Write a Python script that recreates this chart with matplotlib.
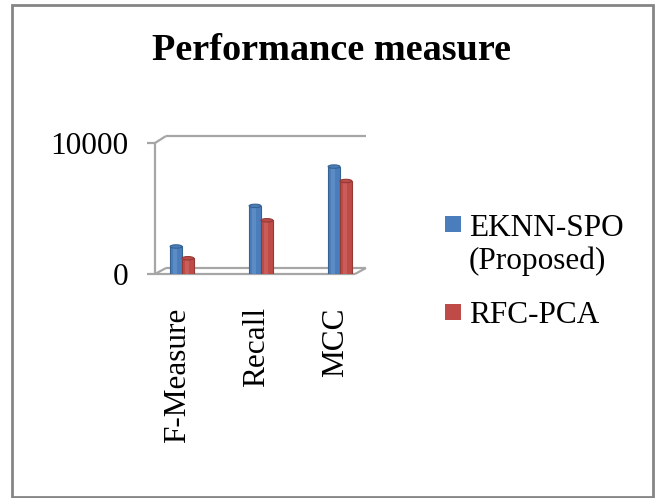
import matplotlib
matplotlib.use("Agg")
import matplotlib.pyplot as plt
import numpy as np
from matplotlib.patches import Ellipse, Rectangle
from matplotlib.transforms import ScaledTranslation
from matplotlib.lines import Line2D

categories = ["F-Measure", "Recall", "MCC"]
series_names = ["EKNN-SPO\n(Proposed)", "RFC-PCA"]
eknn_values = [2100, 5200, 8200]
rfc_values = [1200, 4100, 7100]
ytick_values = [0, 10000]
ytick_labels = ["0", "10000"]

W, H = 655, 498
fig = plt.figure(figsize=(W / 100, H / 100), dpi=100)
plt.rcParams['font.family'] = ['Liberation Serif', 'DejaVu Serif']

def fx(px):
    return px / W

def fy(py):
    return 1 - py / H

FS = 22.5

# Outer border
fig.add_artist(Rectangle((fx(12), fy(497)), fx(653) - fx(12), fy(5) - fy(497),
                         transform=fig.transFigure, fill=False,
                         edgecolor="#858585", lw=2.0))

# Axes: front plot area
left, right, bottom, top = 155, 355, 274, 143
ax = fig.add_axes([fx(left), fy(bottom), fx(right) - fx(left), fy(top) - fy(bottom)])
ax.set_xlim(-27 / 79, 2 + 15 / 79)
ax.set_ylim(0, 10000)
for s in ax.spines.values():
    s.set_visible(False)
ax.patch.set_alpha(0)

grey = "#a6a6a6"
# 3D frame lines (axes fraction)
dxd = 11 / 200
dyd = 6 / 131
ytop_back = (274 - 136) / 131
frame = [
    ([0, 0], [0, 1]),
    ([0, dxd], [1, ytop_back]),
    ([dxd, 1 + dxd], [ytop_back, ytop_back]),
    ([0, 1], [0, 0]),
    ([dxd, 1 + dxd], [dyd, dyd]),
    ([0, dxd], [0, dyd]),
    ([1, 1 + dxd], [0, dyd]),
]
for xs, ys in frame:
    ax.add_line(Line2D(xs, ys, transform=ax.transAxes, color=grey, lw=1.6,
                       clip_on=False, zorder=1, solid_capstyle="butt"))

ax.set_yticks(ytick_values)
ax.set_yticklabels(ytick_labels, fontsize=FS)
ax.tick_params(axis="y", length=6, width=1.6, color=grey, pad=13.5, direction="out")

x = np.arange(len(categories))
ax.set_xticks(x)
ax.set_xticklabels(categories, rotation=90, fontsize=FS)
ax.tick_params(axis="x", length=0, pad=24)
for lab in ax.get_xticklabels():
    lab.set_transform(lab.get_transform() + ScaledTranslation(-4 / 100, 0, fig.dpi_scale_trans))

bw = 0.15
blue = "#4a7dbb"
red = "#be4b48"
styles = [
    (eknn_values, -bw / 2, blue, "#35628f", "#7aa3d6"),
    (rfc_values, bw / 2, red, "#933a37", "#d97a77"),
]
cap_h = 260
for vals, off, col, dark, light in styles:
    ax.bar(x + off, vals, width=bw, color=col, edgecolor=dark, linewidth=0.8, zorder=3)
    ax.bar(x + off - bw * 0.1, vals, width=bw * 0.3, color=light, alpha=0.4,
           linewidth=0, zorder=3.1)
    for xi, v in zip(x + off, vals):
        ax.add_patch(Ellipse((xi, v), bw, cap_h, facecolor=col, edgecolor=dark,
                             lw=0.8, zorder=3.5))

# Title
fig.text(fx(331), fy(60), "Performance measure", ha="center", va="baseline",
         fontsize=27.5, fontweight="bold")

# Legend (manual)
sq = 16
fig.add_artist(Rectangle((fx(445), fy(232)), fx(sq), fy(0) - fy(sq),
                         transform=fig.transFigure, facecolor=blue, edgecolor="none"))
fig.add_artist(Rectangle((fx(445), fy(320)), fx(sq), fy(0) - fy(sq),
                         transform=fig.transFigure, facecolor=red, edgecolor="none"))
fig.text(fx(469), fy(236), series_names[0].split("\n")[0], ha="left", va="baseline", fontsize=FS)
fig.text(fx(469), fy(269), series_names[0].split("\n")[1], ha="left", va="baseline", fontsize=FS)
fig.text(fx(469), fy(323), series_names[1], ha="left", va="baseline", fontsize=FS)

fig.savefig("out.png", dpi=100)
